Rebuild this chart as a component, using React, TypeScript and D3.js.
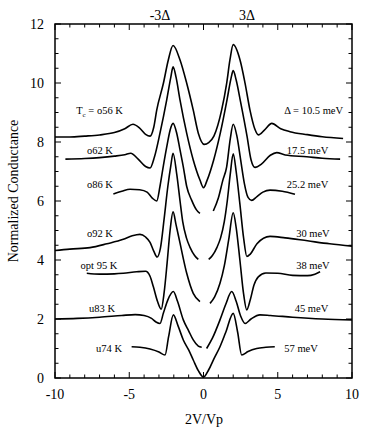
import React from "react";
import * as d3 from "d3";

// tick values and labels
const xTickValues = [-10, -5, 0, 5, 10];
const yTickValues = [0, 2, 4, 6, 8, 10, 12];

// curve labels (temperature on the left, gap on the right)
const tempLabels = ["o56 K", "o62 K", "o86 K", "o92 K", "opt 95 K", "u83 K", "u74 K"];
const gapLabels = ["Δ = 10.5 meV", "17.5 meV", "25.2 meV", "30 meV", "38 meV", "45 meV", "57 meV"];
const labelY = [9.08, 7.73, 6.59, 4.93, 3.83, 2.36, 1.03];
const tempLabelEnd = [-5.43, -6.1, -6.1, -6.1, -5.8, -5.96, -5.49];
const gapLabelEnd = [9.4, 8.4, 8.4, 8.5, 8.5, 8.4, 7.7];

// normalized conductance curves, [2V/Vp, G] pairs (offset as in the figure)
const o56 = [[-10, 8.17], [-9, 8.17], [-8, 8.2], [-7, 8.24], [-6, 8.32], [-5.3, 8.45], [-4.75, 8.6], [-4.3, 8.47], [-3.9, 8.26], [-3.6, 8.2], [-3.35, 8.5], [-3.15, 9.08], [-2.7, 9.99], [-2.37, 10.78], [-2.05, 11.27], [-1.58, 10.78], [-1.13, 9.99], [-0.69, 9.08], [-0.35, 8.3], [0.05, 7.92], [0.35, 7.98], [0.7, 8.2], [1.22, 9.08], [1.56, 9.99], [1.78, 10.78], [2.0, 11.3], [2.46, 10.78], [2.8, 9.99], [3.13, 9.08], [3.45, 8.45], [3.7, 8.24], [4.1, 8.4], [4.6, 8.63], [5.2, 8.45], [5.82, 8.35], [7, 8.25], [8, 8.18], [9.4, 8.12]];
const o62 = [[-9.3, 7.42], [-8, 7.44], [-7, 7.47], [-6, 7.52], [-5.3, 7.57], [-4.9, 7.62], [-4.4, 7.42], [-3.9, 7.17], [-3.6, 7.12], [-3.3, 7.5], [-2.93, 8.3], [-2.48, 9.42], [-2.2, 10.2], [-2.05, 10.55], [-1.85, 10.2], [-1.58, 9.42], [-1.13, 8.29], [-0.69, 7.39], [-0.24, 6.71], [0, 6.45], [0.24, 6.7], [0.69, 7.4], [1.13, 8.3], [1.58, 9.42], [1.85, 10.15], [2.0, 10.42], [2.2, 10.1], [2.5, 9.35], [2.93, 8.2], [3.2, 7.4], [3.47, 7.14], [3.9, 7.25], [4.5, 7.55], [4.93, 7.64], [5.5, 7.56], [6.95, 7.5], [8, 7.45], [9.2, 7.42]];
const o86Left = [[-6.07, 6.24], [-5.5, 6.33], [-4.95, 6.4], [-4.3, 6.38], [-3.8, 6.3], [-3.45, 6.1], [-3.15, 6.0], [-2.93, 6.5], [-2.7, 7.2], [-2.45, 7.9], [-2.25, 8.4], [-2.05, 8.63], [-1.8, 8.29], [-1.58, 7.73], [-1.36, 7.16], [-1.13, 6.49], [-0.8, 6.03], [-0.46, 5.69], [-0.24, 5.58]];
const o86Right = [[0.66, 5.66], [1.0, 6.1], [1.3, 6.7], [1.56, 7.16], [1.8, 8.1], [2.0, 8.6], [2.25, 8.2], [2.5, 7.4], [2.75, 6.6], [3.0, 6.12], [3.24, 6.02], [3.6, 6.15], [4.0, 6.3], [4.48, 6.37], [5.3, 6.33], [6.16, 6.23]];
const o92Left = [[-10, 4.32], [-9, 4.37], [-7.64, 4.42], [-6.5, 4.55], [-5.4, 4.7], [-4.8, 4.82], [-4.28, 4.87], [-3.9, 4.78], [-3.6, 4.6], [-3.35, 4.3], [-3.12, 4.1], [-2.9, 4.4], [-2.65, 5.4], [-2.4, 6.5], [-2.2, 7.2], [-2.05, 7.62], [-1.8, 6.9], [-1.58, 6.0], [-1.4, 5.3], [-1.15, 4.75], [-0.9, 4.42], [-0.6, 4.15], [-0.35, 4.02]];
const o92Right = [[0.35, 4.02], [0.6, 4.15], [0.9, 4.42], [1.15, 4.75], [1.4, 5.3], [1.6, 6.0], [1.8, 6.9], [2.0, 7.6], [2.2, 7.0], [2.45, 5.9], [2.7, 4.75], [2.92, 4.12], [3.15, 4.2], [3.6, 4.55], [4.48, 4.8], [5.5, 4.75], [7, 4.65], [8.5, 4.55], [10, 4.47]];
const opt95Left = [[-7.86, 3.55], [-7, 3.52], [-6, 3.53], [-5.4, 3.55], [-4.5, 3.6], [-3.9, 3.62], [-3.6, 3.45], [-3.38, 3.1], [-3.1, 2.6], [-2.85, 2.33], [-2.65, 2.9], [-2.45, 3.9], [-2.25, 5.0], [-2.05, 5.63], [-1.85, 5.2], [-1.58, 4.57], [-1.13, 3.55], [-0.69, 2.87], [-0.24, 2.59]];
const opt95Right = [[0.44, 2.53], [0.75, 2.75], [1.11, 3.21], [1.4, 3.8], [1.7, 4.7], [2.0, 5.6], [2.2, 5.1], [2.45, 4.0], [2.7, 2.85], [2.91, 2.31], [3.15, 2.65], [3.4, 3.15], [3.69, 3.43], [4.2, 3.56], [5, 3.55], [6, 3.48], [7, 3.47], [7.5, 3.52], [7.85, 3.6]];
const u83Left = [[-10, 2.0], [-8.5, 2.02], [-7, 2.06], [-5.5, 2.12], [-4.6, 2.15], [-4.0, 2.12], [-3.5, 2.02], [-3.2, 1.9], [-2.93, 1.85], [-2.7, 2.2], [-2.4, 2.65], [-2.03, 2.93], [-1.75, 2.6], [-1.36, 1.97], [-1.0, 1.6], [-0.69, 1.29], [-0.35, 1.08], [-0.12, 1.04]];
const u83Right = [[0.21, 1.0], [0.6, 1.35], [1.11, 1.97], [1.5, 2.5], [1.9, 2.93], [2.2, 2.6], [2.5, 2.1], [2.8, 1.85], [3.2, 2.0], [3.8, 2.14], [4.5, 2.12], [6, 2.06], [8, 2.0], [10, 1.97]];
const u74 = [[-4.84, 1.06], [-4.28, 1.04], [-3.6, 0.98], [-3.0, 0.88], [-2.59, 0.78], [-2.35, 1.4], [-2.03, 2.14], [-1.7, 1.75], [-1.36, 1.29], [-1.0, 0.95], [-0.69, 0.61], [-0.35, 0.25], [0, 0.03], [0.35, 0.28], [0.7, 0.65], [1.11, 1.06], [1.5, 1.55], [2.0, 2.19], [2.3, 1.55], [2.57, 0.78], [3.0, 0.9], [3.58, 1.0], [4.2, 1.04], [4.8, 1.06]];

const segments = [o56, o62, o86Left, o86Right, o92Left, o92Right, opt95Left, opt95Right, u83Left, u83Right, u74];

const width = 374;
const height = 433;
const font = "Liberation Serif, DejaVu Serif, serif";

export default function App() {
  const x = d3.scaleLinear().domain([-10, 10]).range([55, 352]);
  const y = d3.scaleLinear().domain([0, 12]).range([378, 24]);

  const line = d3.line<number[]>()
    .x((d) => x(d[0]))
    .y((d) => y(d[1]))
    .curve(d3.curveMonotoneX);

  const xMinor = d3.range(-10, 10.001, 1);
  const yMinor = d3.range(0, 12.001, 0.5);
  const [x0, x1] = x.range();
  const [y0, y1] = y.range();

  return (
    <div style={{ position: "absolute", left: 0, top: 0 }}>
      <svg width={width} height={height} fontFamily={font} style={{ display: "block" }}>
        <rect width={width} height={height} fill="white" />

        {/* ticks, inside on all four sides */}
        {xMinor.map((v) => {
          const len = v % 5 === 0 ? 6 : 3.5;
          return (
            <g key={"xt" + v} stroke="black" strokeWidth={1}>
              <line x1={x(v)} x2={x(v)} y1={y0} y2={y0 - len} />
              <line x1={x(v)} x2={x(v)} y1={y1} y2={y1 + len} />
            </g>
          );
        })}
        {yMinor.map((v) => {
          const len = v % 2 === 0 ? 6 : 3.5;
          return (
            <g key={"yt" + v} stroke="black" strokeWidth={1}>
              <line x1={x0} x2={x0 + len} y1={y(v)} y2={y(v)} />
              <line x1={x1} x2={x1 - len} y1={y(v)} y2={y(v)} />
            </g>
          );
        })}
        <rect x={x0} y={y1} width={x1 - x0} height={y0 - y1} fill="none" stroke="black" strokeWidth={1.5} />

        {xTickValues.map((v) => (
          <text key={"xl" + v} x={x(v)} y={399} textAnchor="middle" fontSize={14} fontFamily={font}>{v}</text>
        ))}
        {yTickValues.map((v) => (
          <text key={"yl" + v} x={44} y={y(v) + 5} textAnchor="end" fontSize={14} fontFamily={font}>{v}</text>
        ))}

        <text x={204} y={424} textAnchor="middle" fontSize={14} fontFamily={font}>2V/Vp</text>
        <text transform={`translate(18,${y(6) - 10}) rotate(-90)`} textAnchor="middle" fontSize={14} fontFamily={font}>Normalized Conductance</text>

        <text x={160} y={20} textAnchor="middle" fontSize={14} fontFamily={font}>-3Δ</text>
        <text x={247} y={20} textAnchor="middle" fontSize={14} fontFamily={font}>3Δ</text>

        {segments.map((s, i) => (
          <path key={"c" + i} d={line(s) || ""} fill="none" stroke="black" strokeWidth={1.6} strokeLinejoin="round" />
        ))}

        {tempLabels.map((t, i) => (
          <text key={"tl" + i} x={x(tempLabelEnd[i])} y={y(labelY[i]) + 4} textAnchor="end" fontSize={10.5} fontFamily={font}>
            {i === 0 ? (
              <>
                <tspan>T</tspan>
                <tspan fontSize={7} dy={3}>c</tspan>
                <tspan dy={-3}>{" = " + t}</tspan>
              </>
            ) : t}
          </text>
        ))}
        {gapLabels.map((t, i) => (
          <text key={"gl" + i} x={x(gapLabelEnd[i])} y={y(labelY[i]) + 4} textAnchor="end" fontSize={10.5} fontFamily={font}>{t}</text>
        ))}
      </svg>
    </div>
  );
}
